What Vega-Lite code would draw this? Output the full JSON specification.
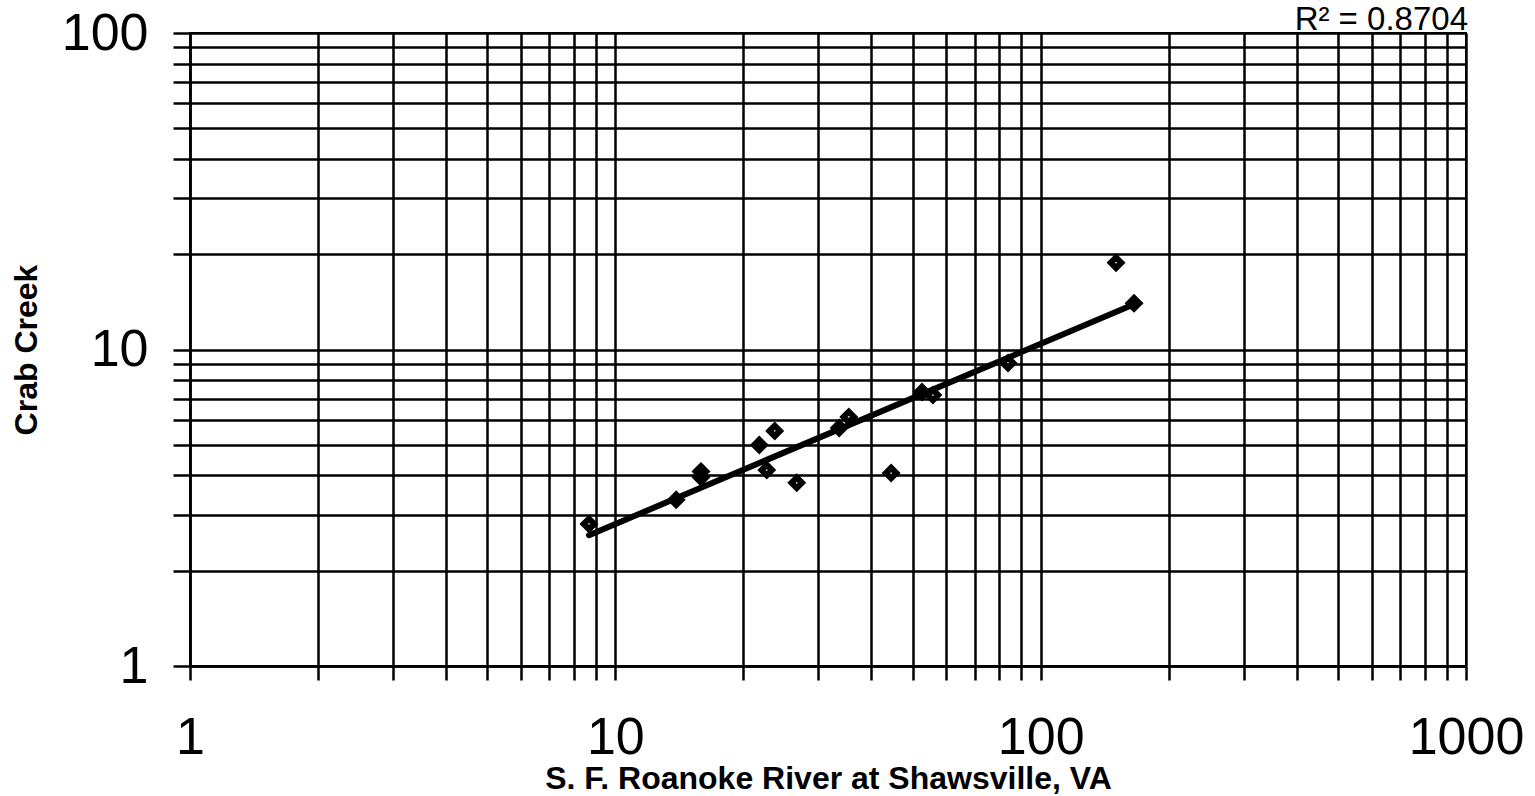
{
  "$schema": "https://vega.github.io/schema/vega-lite/v6.json",
  "width": 1276,
  "height": 633,
  "autosize": {"type": "none"},
  "padding": {"left": 190, "top": 33, "right": 69, "bottom": 130},
  "background": "white",
  "config": {
    "view": {"stroke": "black", "strokeWidth": 2},
    "axis": {
      "grid": true,
      "gridColor": "black",
      "gridOpacity": 1,
      "gridWidth": 2.5,
      "domainColor": "black",
      "domainWidth": 2.5,
      "tickColor": "black",
      "tickWidth": 2.5,
      "labelColor": "black",
      "labelFont": "Liberation Sans",
      "labelFontSize": 52,
      "labelOverlap": false,
      "labelFlush": false,
      "labelBound": false,
      "titleFont": "Liberation Sans",
      "titleFontWeight": "bold",
      "titleFontSize": 32,
      "titleColor": "black"
    }
  },
  "datasets": {
    "obs": [
      {"x": 8.67, "y": 2.81},
      {"x": 13.9, "y": 3.35},
      {"x": 15.9, "y": 3.95},
      {"x": 15.9, "y": 4.12},
      {"x": 21.8, "y": 4.99},
      {"x": 23.7, "y": 5.53},
      {"x": 22.7, "y": 4.16},
      {"x": 26.7, "y": 3.79},
      {"x": 33.6, "y": 5.65},
      {"x": 35.4, "y": 6.12},
      {"x": 44.5, "y": 4.07},
      {"x": 52.6, "y": 7.34},
      {"x": 55.8, "y": 7.18},
      {"x": 83.8, "y": 9.07},
      {"x": 150.4, "y": 18.8},
      {"x": 165.8, "y": 14.0}
    ],
    "fit": [
      {"x": 8.67, "y": 2.59},
      {"x": 165.8, "y": 13.9}
    ]
  },
  "layer": [
    {
      "data": {"name": "fit"},
      "mark": {"type": "line", "color": "black", "strokeWidth": 6, "strokeCap": "round"},
      "encoding": {
        "x": {
          "field": "x",
          "type": "quantitative",
          "scale": {"type": "log", "domain": [1, 1000], "nice": false},
          "axis": {
            "title": "S. F. Roanoke River at Shawsville, VA",
            "values": [1,2,3,4,5,6,7,8,9,10,20,30,40,50,60,70,80,90,100,200,300,400,500,600,700,800,900,1000],
            "format": "d",
            "labelExpr": "indexof([1,10,100,1000], datum.value) >= 0 ? datum.label : ''",
            "tickSize": 14,
            "labelPadding": 32,
            "titlePadding": 0
          }
        },
        "y": {
          "field": "y",
          "type": "quantitative",
          "scale": {"type": "log", "domain": [1, 100], "nice": false},
          "axis": {
            "title": "Crab Creek",
            "values": [1,2,3,4,5,6,7,8,9,10,20,30,40,50,60,70,80,90,100],
            "format": "d",
            "labelExpr": "indexof([1,10,100], datum.value) >= 0 ? datum.label : ''",
            "tickSize": 17,
            "labelPadding": 25,
            "titlePadding": 18
          }
        }
      }
    },
    {
      "data": {"name": "obs"},
      "mark": {"type": "point", "shape": "diamond", "filled": false, "stroke": "black", "strokeWidth": 6, "size": 110, "opacity": 1},
      "encoding": {
        "x": {"field": "x", "type": "quantitative"},
        "y": {"field": "y", "type": "quantitative"}
      }
    },
    {
      "data": {"values": [{}]},
      "mark": {"type": "text", "font": "Liberation Sans", "fontSize": 33, "align": "right", "baseline": "alphabetic", "dx": 2, "dy": -3, "clip": false, "color": "black"},
      "encoding": {
        "x": {"datum": 1000, "type": "quantitative"},
        "y": {"datum": 100, "type": "quantitative"},
        "text": {"value": "R² = 0.8704"}
      }
    }
  ]
}
